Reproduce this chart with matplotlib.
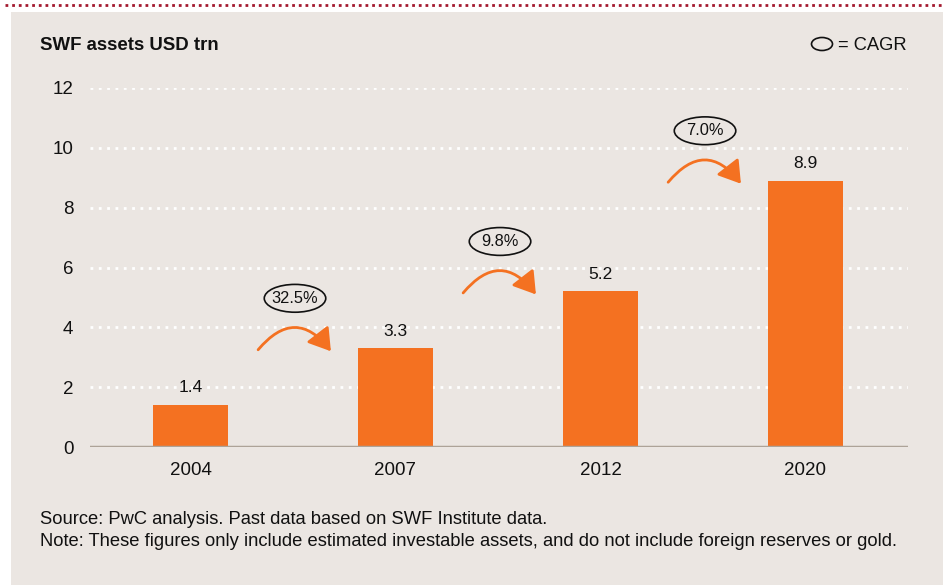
import numpy as np
import matplotlib.pyplot as plt
from matplotlib.patches import Ellipse, Rectangle
from matplotlib.lines import Line2D

plt.rcParams['font.family'] = ['Liberation Sans', 'DejaVu Sans']

years = ['2004', '2007', '2012', '2020']
assets = [1.4, 3.3, 5.2, 8.9]
cagr = ['32.5%', '9.8%', '7.0%']
yticks = [0, 2, 4, 6, 8, 10, 12]

orange = '#F47121'
panel = '#EBE6E2'
ink = '#111111'

W, H = 943, 585
fig = plt.figure(figsize=(W / 100, H / 100), dpi=100)
fig.patch.set_facecolor('white')

# grey panel and dotted red rule on top
fig.add_artist(Rectangle((11 / W, 0), 1 - 11 / W, (H - 12) / H,
                         transform=fig.transFigure, facecolor=panel,
                         edgecolor='none', zorder=0))
fig.add_artist(Line2D([5 / W, 1], [(H - 5) / H] * 2, transform=fig.transFigure,
                      color='#A3192F', lw=2, linestyle=(0, (1, 1.4))))

ax = fig.add_axes([90 / W, (H - 447) / H, (908 - 90) / W, (447 - 88) / H])
ax.set_facecolor('none')

x = np.arange(len(years))
ax.bar(x, assets, width=0.37, color=orange, zorder=3)
for xi, v in zip(x, assets):
    ax.annotate(f'{v}', (xi, v), xytext=(0, 7), textcoords='offset points',
                ha='center', va='bottom', fontsize=12.5, color=ink)

ax.set_xlim(-0.49, 3.5)
ax.set_ylim(0, 12)
ax.set_xticks(x, years)
ax.set_yticks(yticks)
ax.tick_params(length=0, labelsize=13.5, colors=ink)
ax.tick_params(axis='x', pad=11)
ax.tick_params(axis='y', pad=12)
for s in ax.spines.values():
    s.set_visible(False)
ax.axhline(0, color='#ADA398', lw=2.5, zorder=4)
for t in yticks[1:]:
    ax.axhline(t, color='white', lw=2, linestyle=(0, (1, 2)), zorder=1)

# CAGR arrows and ellipses between bars
for i, c in enumerate(cagr):
    ya = assets[i + 1] - 0.05
    ax.annotate('', xy=(i + 0.685, ya - 0.05), xytext=(i + 0.33, ya),
                arrowprops=dict(arrowstyle='-|>,head_length=0.6,head_width=0.38',
                                color=orange, lw=2, mutation_scale=22,
                                connectionstyle='arc3,rad=-0.62',
                                shrinkA=0, shrinkB=0), zorder=5)
    ye = ya + 1.72
    ax.add_patch(Ellipse((i + 0.51, ye), 0.3, 0.93, facecolor='none',
                         edgecolor=ink, lw=1.2, clip_on=False, zorder=5))
    ax.text(i + 0.51, ye, c, ha='center', va='center', fontsize=11.8,
            color=ink, zorder=6)

# title and legend
fig.text(40 / W, (H - 45) / H, 'SWF assets USD trn', fontsize=13.4, fontweight='bold',
         va='center', ha='left', color=ink)
fig.add_artist(Ellipse((822 / W, (H - 44) / H), 21 / W, 13 / H, transform=fig.transFigure,
                       facecolor='none', edgecolor=ink, lw=1.2))
fig.text(838 / W, (H - 45) / H, '= CAGR', fontsize=13.2, va='center', ha='left',
         color=ink)

# notes
fig.text(40 / W, (H - 519) / H, 'Source: PwC analysis. Past data based on SWF Institute data.',
         fontsize=13.2, va='center', ha='left', color=ink)
fig.text(40 / W, (H - 541) / H,
         'Note: These figures only include estimated investable assets, and do not include foreign reserves or gold.',
         fontsize=13.2, va='center', ha='left', color=ink)

fig.savefig('out.png', dpi=100, facecolor=fig.get_facecolor())
